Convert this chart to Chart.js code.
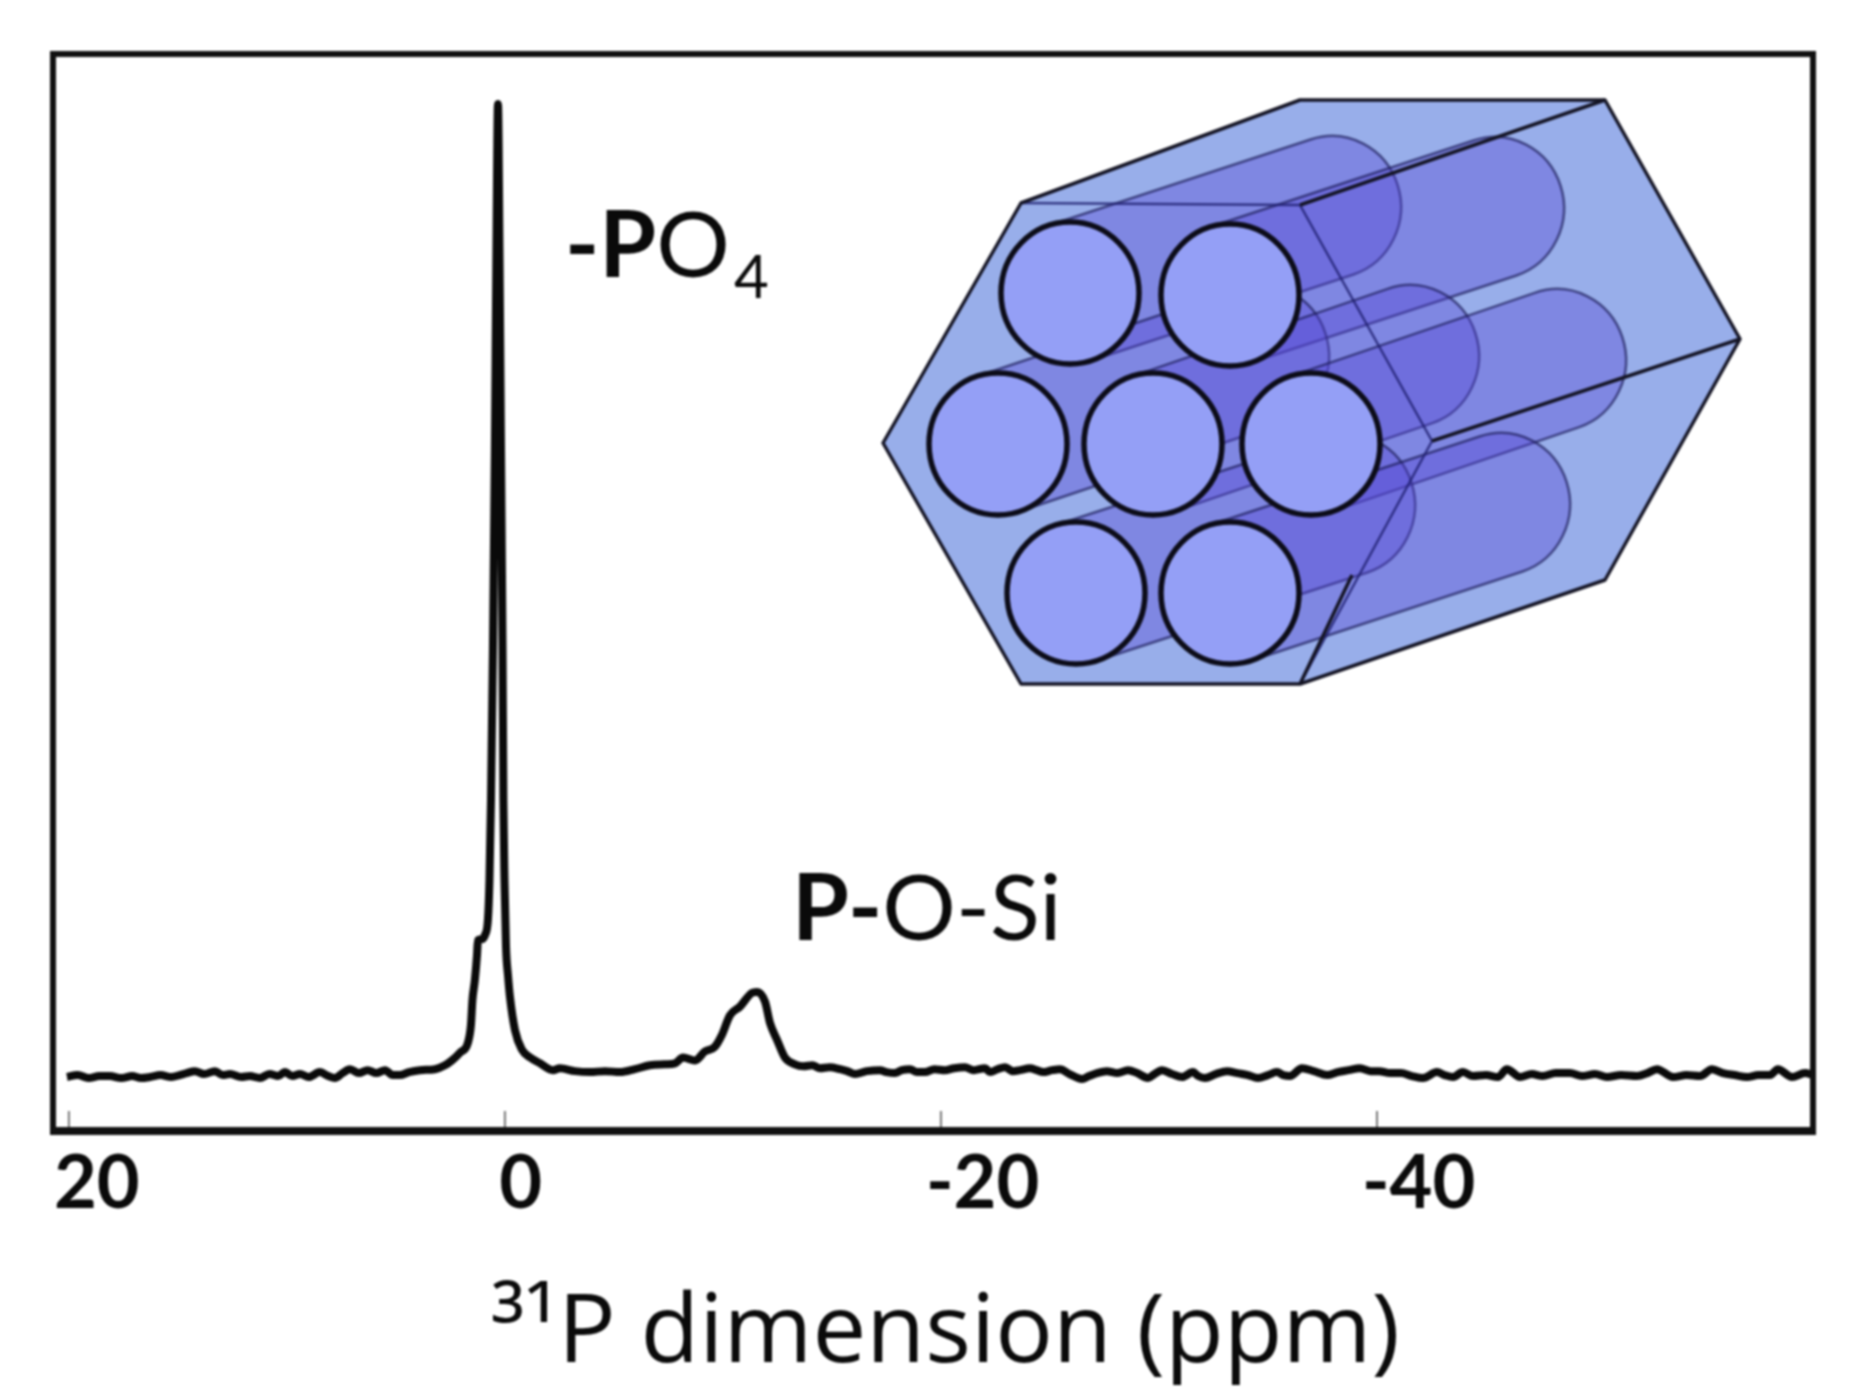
<!DOCTYPE html>
<html>
<head>
<meta charset="utf-8">
<title>31P spectrum</title>
<script src="https://cdn.jsdelivr.net/npm/chart.js@4"></script>
<style>
    html, body { margin: 0; padding: 0; background: #fff; }
    #wrap { width: 1868px; height: 1392px; }
    canvas { filter: blur(1.3px); }
</style>
</head>
<body>
<div id="wrap"><canvas id="nmrChart" width="1868" height="1392"></canvas></div>
<script>
// values, split in three stretches of the spectrum
const ppmLeft = [
    20.09, 19.6, 19.1, 18.6, 18.12, 17.6, 17.1, 16.7, 16.28, 15.8,
    15.3, 14.91, 14.6, 14.22, 13.8, 13.30, 12.95, 12.61, 12.1, 11.7,
    11.24, 10.8, 10.4, 10.09, 9.75, 9.40, 9.0, 8.49, 8.1, 7.80,
    7.45, 7.11, 6.7, 6.3, 5.9, 5.50, 5.15, 4.82, 4.4, 3.90
];
const intensityLeft = [
    0.1, 0.3, 0.0, 0.2, 0.2, 0.0, 0.2, 0.0, 0.1, 0.3,
    0.1, 0.3, 0.5, 0.7, 0.4, 0.7, 0.3, 0.4, 0.1, 0.2,
    0.0, 0.4, 0.2, 0.6, 0.2, 0.4, 0.1, 0.6, 0.2, 0.0,
    0.5, 0.9, 0.5, 0.8, 0.5, 0.8, 0.3, 0.3, 0.6, 0.8
];
const ppmPeaks = [
    3.21, 2.75, 2.43, 2.06, 1.70, 1.56, 1.49, 1.38, 1.28, 1.24, 1.06, 0.92, 0.78, 0.71, 0.64, 0.55, 0.46, 0.39,
    0.32, 0.25, 0.18, 0.11, 0.07, 0.02, -0.05, -0.14, -0.23, -0.46, -0.78, -1.15, -1.61, -2.20, -2.52, -3.21,
    -3.90, -4.59, -5.28, -5.96, -6.65, -7.34, -7.80, -8.17, -8.72, -9.17, -9.63, -9.95, -10.32, -10.78, -11.33,
    -11.56, -11.93, -12.16, -12.48, -12.84
];
const intensityPeaks = [
    0.9, 1.3, 1.8, 2.6, 3.6, 5.4, 8.0, 10.0, 12.6, 14.1, 14.2, 14.6, 16.2, 20.2, 28.4, 43.8, 64.2, 84.7,
    99.6, 84.7, 64.2, 43.8, 28.4, 20.2, 13.4, 10.5, 8.3, 4.9, 2.9, 2.1, 1.5, 0.8, 1.0, 0.7,
    0.6, 0.7, 0.6, 0.9, 1.3, 1.4, 1.5, 2.1, 1.8, 2.7, 3.2, 4.4, 6.4, 7.3, 8.7,
    8.8, 7.8, 5.6, 3.9, 2.1
];
const ppmRight = [
    -13.30, -13.7, -14.1, -14.45, -14.9, -15.37, -15.7, -16.06, -16.6, -17.20,
    -17.5, -17.89, -18.2, -18.58, -18.9, -19.27, -19.7, -20.18, -20.6, -21.10,
    -21.5, -22.02, -22.25, -22.6, -22.94, -23.3, -23.62, -24.08, -24.4, -24.68,
    -25.1, -25.46, -25.9, -26.47, -26.8, -27.16, -27.6, -28.1, -28.58, -29.0,
    -29.50, -29.8, -30.14, -30.6, -31.06, -31.56, -31.8, -32.11, -32.6, -33.12,
    -33.6, -34.08, -34.54, -35.0, -35.41, -35.7, -36.01, -36.56, -37.1, -37.71,
    -38.2, -38.7, -39.22, -39.7, -40.1, -40.60, -41.1, -41.6, -42.11, -42.75,
    -43.1, -43.49, -43.94, -44.40, -45.0, -45.55, -45.96, -46.56, -47.1, -47.6,
    -48.2, -48.85, -49.4, -50.0, -50.55, -51.2, -51.93, -52.4, -52.84, -53.58,
    -54.2, -54.82, -55.37, -55.87, -56.4, -56.97, -57.5, -58.03, -58.39, -59.04,
    -59.63, -60.00
];
const intensityRight = [
    1.4, 1.2, 1.3, 1.0, 1.1, 0.9, 0.7, 0.4, 0.7, 0.8,
    0.6, 0.5, 0.8, 0.9, 0.6, 0.6, 0.9, 0.8, 1.0, 1.1,
    0.8, 1.0, 0.6, 0.9, 1.1, 0.7, 0.8, 1.0, 0.8, 0.6,
    0.8, 0.9, 0.4, -0.1, 0.2, 0.5, 0.7, 0.5, 0.8, 0.5,
    0.0, 0.4, 0.8, 0.4, 0.1, 0.6, 0.2, 0.0, 0.4, 0.7,
    0.5, 0.3, 0.0, 0.3, 0.6, 0.3, 0.2, 1.0, 0.7, 0.3,
    0.6, 0.8, 1.0, 0.7, 0.7, 0.5, 0.5, 0.2, 0.0, 0.6,
    0.3, 0.1, 0.6, 0.2, 0.3, 0.1, 0.9, 0.1, 0.4, 0.2,
    0.5, 0.5, 0.2, 0.4, 0.1, 0.3, 0.2, 0.5, 0.9, 0.1,
    0.3, 0.2, 0.9, 0.5, 0.3, 0.1, 0.3, 0.3, 0.9, 0.1,
    0.5, 0.3
];
const ppm = ppmLeft.concat(ppmPeaks, ppmRight);
const intensity = intensityLeft.concat(intensityPeaks, intensityRight);

const tickValues = [20, 0, -20, -40];
const tickLabels = ['20', '\u20090', '-20', '-40'];
const axisTitle = '\u00a0\u00b3\u00b9P dimension (ppm)';

// peak labels, one entry per text run
const po4Label = [['-P', 'bold'], ['O', 'normal']];
const posiLabel = [['P-', 'bold'], ['O-Si', 'normal']];

const frameBox = { left: 53, top: 54, right: 1813, bottom: 1131 };

function drawRuns(ctx, runs, x, y, size) {
    runs.forEach(r => {
        ctx.font = r[1] + ' ' + size + 'px Lato';
        ctx.fillText(r[0], x, y);
        x += ctx.measureText(r[0]).width;
    });
    return x;
}

// hexagonal block with seven channels, just an illustration
const hexOutline = [[883, 443], [1021, 203], [1300, 100], [1605, 100], [1740, 339], [1605, 580], [1300, 684], [1021, 684]];
const poreCentres = [[1070, 293], [1230, 295], [998, 444], [1153, 444], [1311, 444], [1076, 593], [1230, 593]];
const poreDepths = [[262, -86], [265, -87], [262, -88], [257, -88], [246, -84], [270, -88], [271, -89]];

function drawInset(ctx) {
    ctx.save();
    ctx.lineJoin = 'round';
    ctx.beginPath();
    hexOutline.forEach((p, i) => i ? ctx.lineTo(p[0], p[1]) : ctx.moveTo(p[0], p[1]));
    ctx.closePath();
    ctx.fillStyle = '#98aeea';
    ctx.fill();

    const rx = 69, ry = 71;
    poreCentres.forEach((c, i) => {
        const dx = poreDepths[i][0], dy = poreDepths[i][1];
        const a = Math.atan2(dy, dx);
        ctx.beginPath();
        ctx.ellipse(c[0] + dx, c[1] + dy, rx, ry, 0, a - Math.PI / 2, a + Math.PI / 2);
        ctx.ellipse(c[0], c[1], rx, ry, 0, a + Math.PI / 2, a - Math.PI / 2);
        ctx.closePath();
        ctx.fillStyle = 'rgba(88,72,212,0.38)';
        ctx.fill();
        ctx.strokeStyle = 'rgba(30,30,90,0.7)';
        ctx.lineWidth = 2.5;
        ctx.stroke();
    });

    // inner edges of the front face
    ctx.strokeStyle = 'rgba(30,30,110,0.8)';
    ctx.lineWidth = 2.5;
    ctx.beginPath();
    ctx.moveTo(1021, 203);
    ctx.lineTo(1300, 205);
    ctx.lineTo(1432, 441);
    ctx.lineTo(1300, 684);
    ctx.stroke();

    ctx.strokeStyle = '#141424';
    ctx.lineWidth = 3.5;
    ctx.beginPath();
    hexOutline.forEach((p, i) => i ? ctx.lineTo(p[0], p[1]) : ctx.moveTo(p[0], p[1]));
    ctx.closePath();
    ctx.stroke();
    ctx.beginPath();
    ctx.moveTo(1300, 205);
    ctx.lineTo(1605, 100);
    ctx.moveTo(1432, 441);
    ctx.lineTo(1740, 339);
    ctx.moveTo(1300, 684);
    ctx.lineTo(1352, 575);
    ctx.stroke();

    poreCentres.forEach(c => {
        ctx.beginPath();
        ctx.ellipse(c[0], c[1], rx, ry, 0, 0, Math.PI * 2);
        ctx.fillStyle = '#949ff6';
        ctx.fill();
        ctx.strokeStyle = '#0c0c18';
        ctx.lineWidth = 5.5;
        ctx.stroke();
    });
    ctx.restore();
}

const framePlugin = {
    id: 'framePlugin',
    afterDraw(chart) {
        const ctx = chart.ctx;
        const area = chart.chartArea;
        const xScale = chart.scales.x;
        ctx.save();

        // ticks point into the plot
        ctx.strokeStyle = '#777';
        ctx.lineWidth = 2;
        tickValues.forEach(v => {
            const px = xScale.getPixelForValue(v);
            ctx.beginPath();
            ctx.moveTo(px, area.bottom - 20);
            ctx.lineTo(px, area.bottom);
            ctx.stroke();
        });

        ctx.strokeStyle = '#111';
        ctx.lineWidth = 6;
        ctx.strokeRect(area.left, area.top, area.right - area.left, area.bottom - area.top);
        ctx.lineWidth = 8;
        ctx.beginPath();
        ctx.moveTo(area.left - 3, area.bottom);
        ctx.lineTo(area.right + 3, area.bottom);
        ctx.stroke();

        drawInset(ctx);

        ctx.fillStyle = '#0a0a0a';
        ctx.textAlign = 'left';
        ctx.textBaseline = 'alphabetic';
        const end = drawRuns(ctx, po4Label, 565, 277, 92);
        ctx.font = 'normal 60px Lato';
        ctx.fillText('4', end + 4, 298);
        drawRuns(ctx, posiLabel, 792, 940, 92);
        ctx.restore();
    }
};

new Chart(document.getElementById('nmrChart'), {
    type: 'line',
    data: {
        datasets: [{
            label: '31P spectrum',
            data: ppm.map((p, i) => ({ x: p, y: intensity[i] })),
            borderColor: '#0a0a0a',
            borderWidth: 8,
            borderJoinStyle: 'round',
            cubicInterpolationMode: 'monotone',
            pointRadius: 0
        }]
    },
    options: {
        responsive: false,
        animation: false,
        layout: {
            padding: { left: frameBox.left, right: 1868 - frameBox.right, top: frameBox.top, bottom: 0 }
        },
        scales: {
            x: {
                type: 'linear',
                reverse: true,
                min: -60,
                max: 20.73,
                afterBuildTicks: axis => { axis.ticks = tickValues.map(v => ({ value: v })); },
                afterFit: axis => { axis.height = 1392 - frameBox.bottom; },
                grid: { display: false, drawTicks: false },
                border: { display: false },
                ticks: {
                    autoSkip: false,
                    maxRotation: 0,
                    align: 'start',
                    labelOffset: -15,
                    padding: 9,
                    color: '#0a0a0a',
                    font: { family: 'Lato', size: 74, weight: 'bold' },
                    callback: value => tickLabels[tickValues.indexOf(value)]
                },
                title: {
                    display: true,
                    text: axisTitle,
                    color: '#0a0a0a',
                    font: { family: '"Open Sans"', size: 96 },
                    padding: { top: 0, bottom: 0 }
                }
            },
            y: {
                display: false,
                min: -5.42,
                max: 104.7
            }
        },
        plugins: {
            legend: { display: false },
            tooltip: { enabled: false }
        }
    },
    plugins: [framePlugin]
});
</script>
</body>
</html>
